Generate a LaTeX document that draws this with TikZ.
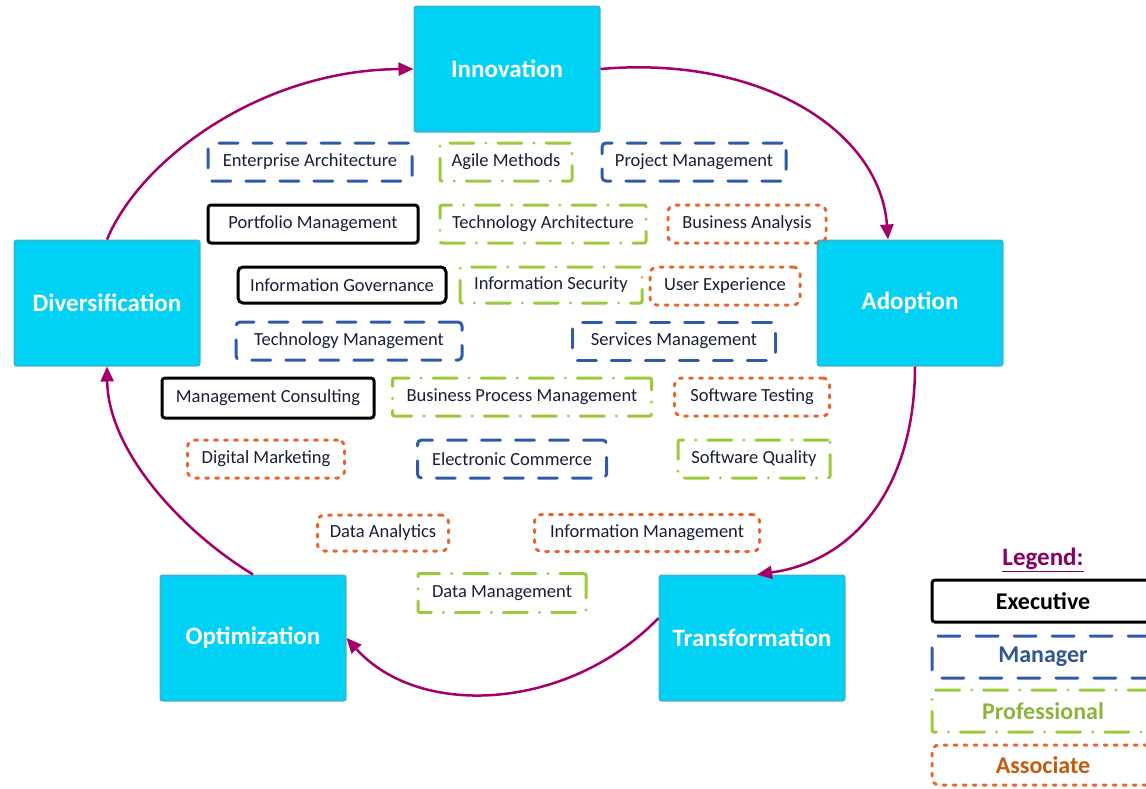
\documentclass[tikz,border=0pt]{standalone}
\usepackage{fontspec}
\setmainfont{Carlito}
\usepackage{xcolor}
\usetikzlibrary{arrows.meta}
\definecolor{phasecyan}{RGB}{0,210,245}
\definecolor{phaseedge}{RGB}{45,185,215}
\definecolor{cycleplum}{RGB}{165,0,105}
\definecolor{mgrblue}{RGB}{47,90,170}
\definecolor{progreen}{RGB}{155,200,60}
\definecolor{assocorange}{RGB}{235,100,45}
\definecolor{skilltext}{RGB}{25,30,55}
\definecolor{legendplum}{RGB}{135,0,95}
\definecolor{mgrtext}{RGB}{47,85,151}
\definecolor{protext}{RGB}{140,180,60}
\definecolor{assoctext}{RGB}{197,90,17}
\tikzset{
    phase-box/.style = {draw=phaseedge, fill=phasecyan, line width=2pt, rectangle, rounded corners=2pt, text=white, font=\fontsize{25}{28}\selectfont\bfseries, minimum width=185pt, minimum height=125pt},
    skill-box/.style = {rectangle, line width=3pt, text=skilltext, font=\fontsize{18.5}{21}\selectfont, minimum height=38pt, inner sep=0pt},
    executive-box/.style = {skill-box, draw=black, rounded corners=3pt},
    manager-box/.style = {skill-box, draw=mgrblue, rounded corners=4pt, dash pattern=on 19pt off 15pt, line cap=round},
    professional-box/.style = {skill-box, draw=progreen, rounded corners=2pt, dash pattern=on 24pt off 12pt on 0.1pt off 12pt, line cap=round},
    associate-box/.style = {skill-box, draw=assocorange, rounded corners=7pt, dash pattern=on 3pt off 7pt, line cap=round},
    cycle-arrow/.style = {draw=cycleplum, line width=2.5pt, -{Triangle[length=15pt,width=13pt]}},
    legend-box/.style = {minimum width=222pt, minimum height=42pt, inner sep=0pt, font=\fontsize{24}{27}\selectfont\bfseries},
}

\begin{document}
\begin{tikzpicture}[x=1pt, y=-1pt]
\useasboundingbox (0,0) rectangle (1146,788);

\node[phase-box] (innovation) at (507,69) {Innovation};
\node[phase-box] (adoption) at (910,303) {Adoption};
\node[phase-box] (transformation) at (752,638) {Transformation};
\node[phase-box] (optimization) at (253,638) {Optimization};
\node[phase-box] (diversification) at (107,303) {Diversification};

\draw[cycle-arrow] (diversification.north) .. controls (140,160) and (260,70) .. (innovation.west);
\draw[cycle-arrow] (innovation.east) .. controls (760,55) and (880,130) .. ([xshift=-22pt]adoption.north);
\draw[cycle-arrow] ([xshift=5pt]adoption.south) .. controls (915,480) and (860,560) .. ([xshift=5pt]transformation.north);
\draw[cycle-arrow] ([yshift=20pt]transformation.west) .. controls (570,710) and (420,720) .. (optimization.east);
\draw[cycle-arrow] (optimization.north) .. controls (180,530) and (108,450) .. (diversification.south);

\node[manager-box, minimum width=204pt] (ent-arch) at (310,162) {Enterprise Architecture};
\node[professional-box, minimum width=132pt] (agile) at (506,162) {Agile Methods};
\node[manager-box, minimum width=184pt] (proj-mgmt) at (694,162) {Project Management};
\node[executive-box, minimum width=210pt] (port-mgmt) at (313,224) {Portfolio Management};
\node[professional-box, minimum width=206pt] (tech-arch) at (543,224) {Technology Architecture};
\node[associate-box, minimum width=158pt] (bus-anal) at (747,224) {Business Analysis};
\node[executive-box, minimum width=208pt, minimum height=36pt, rounded corners=5pt] (info-gov) at (342,285) {Information Governance};
\node[professional-box, minimum width=182pt, minimum height=36pt] (info-sec) at (551,285) {Information Security};
\node[associate-box, minimum width=150pt] (user-exp) at (725,286) {User Experience};
\node[manager-box, minimum width=226pt] (tech-mgmt) at (349,341) {Technology Management};
\node[manager-box, minimum width=203pt] (serv-mgmt) at (674,341) {Services Management};
\node[executive-box, minimum width=212pt, minimum height=40pt] (mgmt-cons) at (268,398) {Management Consulting};
\node[professional-box, minimum width=259pt] (bpm) at (522,397) {Business Process Management};
\node[associate-box, minimum width=155pt] (sw-test) at (752,397) {Software Testing};
\node[associate-box, minimum width=157pt] (dig-mkt) at (266,459) {Digital Marketing};
\node[manager-box, minimum width=189pt] (e-comm) at (512,459) {Electronic Commerce};
\node[professional-box, minimum width=152pt] (sw-qual) at (754,459) {Software Quality};
\node[associate-box, minimum width=131pt, minimum height=36pt] (data-anal) at (383,533) {Data Analytics};
\node[associate-box, minimum width=225pt, minimum height=37pt] (info-mgmt) at (647,533) {Information Management};
\node[professional-box, minimum width=168pt, minimum height=39pt] (data-mgmt) at (502,593) {Data Management};

\node[text=legendplum, font=\fontsize{25}{28}\selectfont\bfseries] (legend-title) at (1043,560) {\underline{Legend:}};
\node[legend-box, executive-box, minimum width=222pt, minimum height=42pt, text=black, font=\fontsize{24}{27}\selectfont\bfseries] (lg-exec) at (1043,601) {Executive};
\node[legend-box, manager-box, minimum width=222pt, minimum height=42pt, text=mgrtext, font=\fontsize{24}{27}\selectfont\bfseries, dash pattern=on 22pt off 16pt] (lg-mgr) at (1043,657) {Manager};
\node[legend-box, professional-box, minimum width=222pt, minimum height=42pt, text=protext, font=\fontsize{24}{27}\selectfont\bfseries] (lg-pro) at (1043,711) {Professional};
\node[legend-box, associate-box, minimum width=222pt, minimum height=40pt, text=assoctext, font=\fontsize{24}{27}\selectfont\bfseries] (lg-assoc) at (1043,765) {Associate};
\end{tikzpicture}
\end{document}
